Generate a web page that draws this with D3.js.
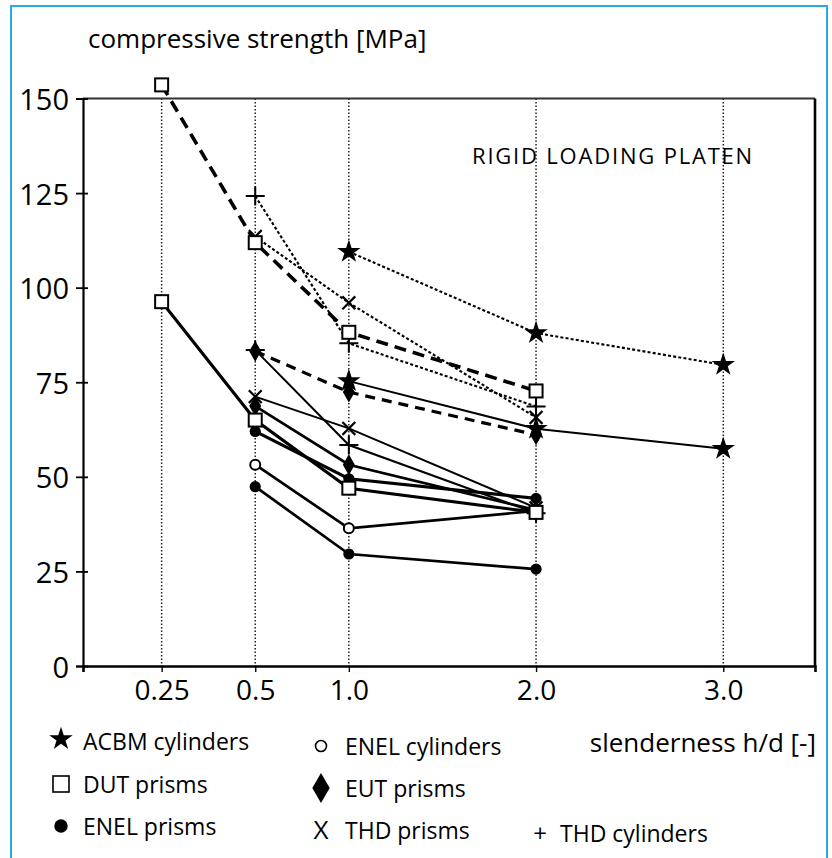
<!DOCTYPE html>
<html>
<head>
<meta charset="utf-8">
<script src="https://cdn.jsdelivr.net/npm/d3@7"></script>
<style>
  body { margin: 0; background: #fff; }
  svg { display: block; font-family: 'Open Sans', sans-serif; }
</style>
</head>
<body>
<div id="chart"></div>
<script>
// slenderness values on the x axis and their labels
let hdValues = [0.25, 0.5, 1, 2, 3]
let hdLabels = ['0.25', '0.5', '1.0', '2.0', '3.0']
let yTicks = [0, 25, 50, 75, 100, 125, 150]

// each series: [h/d, compressive strength MPa]
let acbmCylDotted = [[1, 109.5], [2, 88], [3, 79.6]]
let acbmCylSolid = [[1, 75.3], [2, 62.7], [3, 57.4]]
let dutPrismDashed = [[0.25, 153.6], [0.5, 111.9], [1, 88.2], [2, 72.7]]
let dutPrismSolid = [[0.25, 96.3], [0.5, 65], [1, 47], [2, 40.6]]
let eutPrismDashed = [[0.5, 83.2], [1, 72.4], [2, 61.1]]
let eutPrismSolid = [[0.5, 68.7], [1, 53.2], [2, 41.2]]
let enelPrismUpper = [[0.5, 62], [1, 49.5], [2, 44.3]]
let enelPrismLower = [[0.5, 47.4], [1, 29.6], [2, 25.6]]
let enelCyl = [[0.5, 53.2], [1, 36.4], [2, 41]]
let thdPrismDotted = [[0.5, 113.5], [1, 96], [2, 65.7]]
let thdPrismSolid = [[0.5, 71.2], [1, 62.8], [2, 41.8]]
let thdCylDotted = [[0.5, 124.2], [1, 85.3], [2, 68.6]]
let thdCylSolid = [[0.5, 83.5], [1, 58.4], [2, 40.4]]

let legendItems = [
  { marker: 'star', label: 'ACBM cylinders', col: 0, row: 0 },
  { marker: 'square', label: 'DUT prisms', col: 0, row: 1 },
  { marker: 'dot', label: 'ENEL prisms', col: 0, row: 2 },
  { marker: 'ring', label: 'ENEL cylinders', col: 1, row: 0 },
  { marker: 'diamond', label: 'EUT prisms', col: 1, row: 1 },
  { marker: 'X', label: 'THD prisms', col: 1, row: 2 },
  { marker: '+', label: 'THD cylinders', col: 2, row: 2 }
]

let styles = {
  thickDash: { w: 3.6, dash: '12,7' },
  dash: { w: 3.2, dash: '10,7' },
  dotted: { w: 2.1, dash: '3,2.2' },
  thick: { w: 3.1, dash: null },
  medium: { w: 2.7, dash: null },
  thin: { w: 2, dash: null }
}

let series = [
  { data: acbmCylDotted, marker: 'star', style: 'dotted' },
  { data: acbmCylSolid, marker: 'star', style: 'thin' },
  { data: thdPrismDotted, marker: 'x', style: 'dotted' },
  { data: thdCylDotted, marker: 'plus', style: 'dotted' },
  { data: dutPrismDashed, marker: 'square', style: 'thickDash' },
  { data: eutPrismDashed, marker: 'diamond', style: 'dash' },
  { data: thdPrismSolid, marker: 'x', style: 'thin' },
  { data: thdCylSolid, marker: 'plus', style: 'thin' },
  { data: eutPrismSolid, marker: 'diamond', style: 'medium' },
  { data: enelPrismUpper, marker: 'dot', style: 'thick' },
  { data: enelCyl, marker: 'ring', style: 'medium' },
  { data: enelPrismLower, marker: 'dot', style: 'medium' },
  { data: dutPrismSolid, marker: 'square', style: 'thick' }
]

let width = 832,
  height = 858

let svg = d3.select('#chart')
  .append('svg')
  .attr('width', width)
  .attr('height', height)

// light blue frame round the figure
svg.append('rect')
  .attr('x', 11).attr('y', 6)
  .attr('width', 816).attr('height', 870)
  .attr('fill', 'none')
  .attr('stroke', '#2aa9e0')
  .attr('stroke-width', 2)

// 0.25 is drawn at 0, the rest keep their own position
let slot = d3.scaleLinear().domain([0.25, 0.5, 3]).range([0, 0.5, 3])
let xs = d3.scaleLinear().domain([-0.42, 3.49]).range([83, 815])
let x = v => xs(slot(v))
let y = d3.scaleLinear().domain([0, 150]).range([666, 98.5])

// dotted verticals
svg.selectAll('.grid')
  .data(hdValues)
  .enter().append('line')
  .attr('class', 'grid')
  .attr('x1', d => x(d)).attr('x2', d => x(d))
  .attr('y1', y(150)).attr('y2', y(0))
  .attr('stroke', '#222')
  .attr('stroke-width', 1.5)
  .attr('stroke-dasharray', '1.5,2')

// frame top and right
svg.append('line')
  .attr('x1', xs.range()[0]).attr('x2', xs.range()[1])
  .attr('y1', y(150)).attr('y2', y(150))
  .attr('stroke', '#333').attr('stroke-width', 2)
svg.append('line')
  .attr('x1', xs.range()[1]).attr('x2', xs.range()[1])
  .attr('y1', y(150)).attr('y2', y(0))
  .attr('stroke', '#000').attr('stroke-width', 2.6)

let yAxis = svg.append('g')
  .attr('transform', 'translate(' + xs.range()[0] + ',0)')
  .call(d3.axisLeft(y).tickValues(yTicks).tickSize(7).tickPadding(7))
yAxis.select('.domain').attr('stroke-width', 2.2)
yAxis.selectAll('.tick line').attr('x1', 5).attr('stroke-width', 1.8)
yAxis.selectAll('text')
  .attr('font-family', 'Open Sans')
  .attr('font-size', 29)
  .attr('dy', '0.38em')
  .attr('fill', '#000')

let xAxis = svg.append('g')
  .attr('transform', 'translate(0,' + y(0) + ')')
  .call(d3.axisBottom(xs).tickValues(hdValues.map(v => slot(v))).tickSize(6).tickPadding(8)
    .tickFormat((d, i) => hdLabels[i]))
xAxis.select('.domain').attr('stroke-width', 2.6)
xAxis.selectAll('.tick line').attr('stroke-width', 1.4)
xAxis.selectAll('text')
  .attr('font-family', 'Open Sans')
  .attr('font-size', 28)
  .attr('fill', '#000')

let line = d3.line()
  .x(d => x(d[0]))
  .y(d => y(d[1]))

svg.selectAll('.series')
  .data(series)
  .enter().append('path')
  .attr('class', 'series')
  .attr('d', d => line(d.data))
  .attr('fill', 'none')
  .attr('stroke', '#000')
  .attr('stroke-width', d => styles[d.style].w)
  .attr('stroke-dasharray', d => styles[d.style].dash)

function drawMarker(g, type, cx, cy, k) {
  k = k || 1
  if (type == 'star') {
    g.append('path').attr('d', d3.symbol(d3.symbolStar, 170 * k * k)())
      .attr('transform', 'translate(' + cx + ',' + cy + ')').attr('fill', '#000')
  } else if (type == 'square') {
    let s = 13 * k
    g.append('rect').attr('x', cx - s / 2).attr('y', cy - s / 2)
      .attr('width', s).attr('height', s)
      .attr('fill', '#fff').attr('stroke', '#000').attr('stroke-width', 2)
  } else if (type == 'dot') {
    g.append('circle').attr('cx', cx).attr('cy', cy).attr('r', 5.6 * k).attr('fill', '#000')
  } else if (type == 'ring') {
    g.append('circle').attr('cx', cx).attr('cy', cy).attr('r', 5 * k)
      .attr('fill', '#fff').attr('stroke', '#000').attr('stroke-width', 2)
  } else if (type == 'diamond') {
    g.append('path').attr('d', d3.symbol(d3.symbolDiamond, 125 * k * k)())
      .attr('transform', 'translate(' + cx + ',' + cy + ')').attr('fill', '#000')
  } else if (type == 'x') {
    g.append('path').attr('d', d3.symbol(d3.symbolX, 110 * k * k)())
      .attr('transform', 'translate(' + cx + ',' + cy + ')')
      .attr('fill', 'none').attr('stroke', '#000').attr('stroke-width', 2.2)
  } else if (type == 'plus') {
    g.append('path').attr('d', d3.symbol(d3.symbolPlus, 120 * k * k)())
      .attr('transform', 'translate(' + cx + ',' + cy + ')')
      .attr('fill', 'none').attr('stroke', '#000').attr('stroke-width', 2)
  }
}

let markers = svg.append('g')
series.forEach(s => {
  s.data.forEach(p => drawMarker(markers, s.marker, x(p[0]), y(p[1])))
})

svg.append('text')
  .attr('x', 88).attr('y', 48)
  .attr('font-size', 26)
  .text('compressive strength [MPa]')

svg.append('text')
  .attr('x', 472).attr('y', 164)
  .attr('font-size', 22)
  .attr('letter-spacing', 1.8)
  .text('RIGID LOADING PLATEN')

svg.append('text')
  .attr('x', 816).attr('y', 752)
  .attr('text-anchor', 'end')
  .attr('font-size', 26)
  .text('slenderness h/d [-]')

// legend
let colText = [83, 345, 560]
let colMark = [61, 321, 540]
let rowBase = [[750, 793, 835], [755, 797, 839], [0, 0, 842]]

let legend = svg.append('g')
legendItems.forEach(item => {
  let base = rowBase[item.col][item.row]
  let cy = base - 9
  if (item.marker == 'X' || item.marker == '+') {
    legend.append('text')
      .attr('x', colMark[item.col]).attr('y', base)
      .attr('text-anchor', 'middle')
      .attr('font-size', item.marker == 'X' ? 26 : 24)
      .text(item.marker)
  } else if (item.marker == 'square') {
    let s = 16
    legend.append('rect').attr('x', colMark[item.col] - s / 2).attr('y', cy - s / 2)
      .attr('width', s).attr('height', s)
      .attr('fill', '#fff').attr('stroke', '#000').attr('stroke-width', 1.6)
  } else if (item.marker == 'dot') {
    drawMarker(legend, 'dot', colMark[item.col], cy, 1.2)
  } else if (item.marker == 'diamond') {
    drawMarker(legend, 'diamond', colMark[item.col], cy, 1.45)
  } else if (item.marker == 'ring') {
    legend.append('circle').attr('cx', colMark[item.col]).attr('cy', cy).attr('r', 5.5)
      .attr('fill', '#fff').attr('stroke', '#000').attr('stroke-width', 1.6)
  } else {
    drawMarker(legend, item.marker, colMark[item.col], cy - 2, 1.0)
  }
  legend.append('text')
    .attr('x', colText[item.col]).attr('y', base)
    .attr('font-size', 23)
    .text(item.label)
})
</script>
</body>
</html>
